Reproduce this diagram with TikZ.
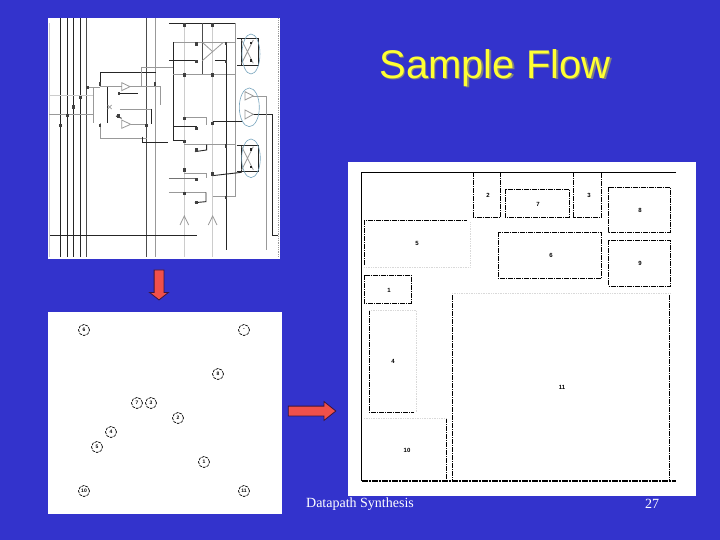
\documentclass[tikz,border=0pt]{standalone}
\usepackage{fontspec}
\setmainfont{Liberation Serif}
\newfontfamily\headfont{Liberation Sans}
\usepackage{xcolor}
\usetikzlibrary{shapes.arrows,positioning}
\definecolor{slidebg}{RGB}{51,51,204}
\definecolor{slideyellow}{RGB}{255,255,51}
\definecolor{slidered}{RGB}{240,80,74}
\definecolor{wirered}{RGB}{60,20,60}
\definecolor{ringblue}{RGB}{120,165,190}

\begin{document}
\begin{tikzpicture}[
		x=1pt, y=-1pt,
		panel/.style={fill=white, inner sep=0pt, outer sep=0pt},
		flow/.style={draw=wirered, fill=slidered, line width=0.8pt, single arrow,
				inner xsep=0pt, inner ysep=4.5pt, outer sep=0pt, single arrow head extend=4.5pt},
		cell/.style={circle, draw, line width=0.7pt, dash pattern=on 3pt off 1pt, minimum size=11pt, inner sep=0pt,
				font=\headfont\bfseries\fontsize{5}{5}\selectfont},
		tag/.style={inner sep=0pt, font=\headfont\bfseries\fontsize{6}{6}\selectfont},
		edge/.style={line width=0.8pt, dash pattern=on 5pt off 1pt on 1pt off 1pt},
		faint/.style={gray!30, line width=0.7pt, densely dotted},
		wire/.style={black!85, line width=0.9pt},
		thin wire/.style={black!40, line width=0.8pt},
		ring/.style={ringblue, line width=0.6pt}
		]
		\useasboundingbox (0,0) rectangle (720,540);
		\fill[slidebg] (0,0) rectangle (720,540);
		\node[panel, minimum width=232pt, minimum height=241pt] (schem) at (164,138.5) {};
		\node[panel, minimum width=234pt, minimum height=202pt] (place) at (165,413) {};
		\node[panel, minimum width=348pt, minimum height=334pt] (layout) at (522,329) {};

		\node[text=gray, font=\headfont\fontsize{40}{40}\selectfont] (shadow) at (496.5,69.5) {Sample Flow};
		\node[text=slideyellow, font=\headfont\fontsize{40}{40}\selectfont] (title) at (495,68) {Sample Flow};
		\node[text=white, font=\fontsize{14}{14}\selectfont] (foot) at (360,504) {Datapath Synthesis};
		\node[text=white, font=\fontsize{14}{14}\selectfont] (page) at (652,504) {27};

		\node[flow, rotate=-90, minimum height=30pt, single arrow tip angle=103] (down) at (159,283) {};
		\node[flow, minimum height=47.5pt, single arrow tip angle=77] (right) at (309,411) {};

		\foreach \n/\x/\y/\t in {c6/84/330/6, cm/244/330/-, c8/218/374/8, c7/137/403/7, c3/151/403/3, c2/178/418/2,
				c4/111/432/4, c5/97/447/5, c1/204/462/1, c10/84/491/10, c11/244/491/11}
		\node[cell] (\n) at (\x,\y) {\t};

		\begin{scope}[shift={(40,10)}, x=0.3333pt, y=-0.3333pt]
			\foreach \x in {61,82,100,121}
			\draw[wire] (\x,25)--(\x,740);
			\draw[black!70, line width=0.9pt] (139,25)--(139,740);
			\draw[black!70, line width=0.9pt] (320,25)--(320,740);
			\draw[thin wire] (347,25)--(347,740);
			\foreach \x in {27,433,518}
			\draw[black!20, line width=0.6pt] (\x,40)--(\x,740);
			\draw[black!40, line width=0.8pt, densely dotted] (716,25)--(716,740);
			\draw[wire] (30,677)--(470,677);
			\draw[wire] (640,313)--(697,313)--(697,677)--(715,677);
			\draw[thin wire] (640,258)--(680,258)--(680,720);
			\draw[black!20, line width=0.6pt] (28,257)--(160,257);
			\draw[thin wire] (28,313)--(160,313);
			\draw[thin wire] (160,235)--(160,340);
			\draw[thin wire] (140,233)--(180,233);

			\draw[wire] (180,225)--(180,187)--(347,187);
			\draw[thin wire] (305,230)--(305,172)--(400,172);
			\draw[wire] (203,230)--(203,340);
			\draw[thin wire] (180,230)--(245,230);
			\draw[thin wire] (245,218)--(270,230)--(245,242)--cycle;
			\draw[thin wire] (270,230)--(360,230)--(360,285);
			\draw[wire] (235,250)--(295,250);
			\draw[thin wire] (240,297)--(333,297);
			\draw[wire] (333,297)--(333,343);
			\draw[thin wire] (203,285)--(215,297) (215,285)--(203,297);
			\draw[wire] (228,318)--(245,325);
			\draw[thin wire] (245,330)--(272,343)--(245,355)--cycle;
			\draw[thin wire] (272,343)--(320,343);
			\draw[thin wire] (180,340)--(180,385)--(320,385);
			\draw[wire] (307,380)--(307,397)--(385,397);

			\draw[wire] (387,40)--(585,40);
			\draw[thin wire] (585,40)--(585,560)--(518,560);
			\draw[thin wire] (400,97)--(585,97);
			\draw[wire] (400,97)--(400,390)--(433,390);
			\draw[wire] (387,152)--(470,152);
			\draw[thin wire] (400,192)--(585,192);
			\draw[black!70, line width=1.1pt] (487,40)--(487,192);
			\draw[wire] (558,97)--(558,720);
			\draw[thin wire] (487,97)--(518,125)--(487,152) (518,125)--(550,97);
			\draw[wire] (525,152)--(558,152);
			\draw[thin wire] (433,322)--(498,322)--(498,345);
			\draw[wire] (400,350)--(470,350);
			\draw[wire] (518,335)--(610,335);
			\draw[thin wire] (433,404)--(585,404);
			\draw[wire] (500,404)--(500,420)--(465,425);
			\draw[black!55, line width=1.4pt] (387,505)--(470,505);
			\draw[thin wire] (433,490)--(498,490)--(498,505);
			\draw[wire] (518,497)--(605,487);
			\draw[thin wire] (387,547)--(498,547);
			\draw[wire] (498,547)--(498,575)--(465,578);
			\foreach \x in {433,518}
			\draw[thin wire] (\x-13,645)--(\x,618)--(\x+13,645);

			\foreach \y in {85,405}{
				\draw[wire] (590,\y)--(655,\y)--(655,\y+80)--(590,\y+80);
				\draw[wire] (605,\y)--(605,\y+80);
				\draw[thin wire] (605,\y+5)--(640,\y+75) (640,\y+5)--(605,\y+75);
				\fill[black!85] (630,\y+10) rectangle (637,\y+18);
				\fill[black!85] (630,\y+62) rectangle (637,\y+70);
			}
			\draw[thin wire] (615,245)--(640,258)--(615,270)--cycle;
			\draw[thin wire] (615,300)--(640,313)--(615,327)--cycle;
			\draw[ring] (633,132) ellipse (27 and 60);
			\draw[ring] (628,292) ellipse (30 and 58);
			\draw[ring] (633,445) ellipse (28 and 58);

			\foreach \x/\y in {142/233,121/263,100/291,82/317,61/346,433/45,518/45,470/102,470/155,558/100,558/155,433/195,518/195,
					180/222,345/222,180/346,320/346,433/325,518/340,470/355,433/395,558/408,470/420,433/480,518/492,470/508,433/550,558/562,470/578,237/250,235/318}
			\fill[black!75] (\x-4,\y-5) rectangle (\x+4,\y+5);
		\end{scope}

		\draw[line width=0.9pt] (676,172.5)--(361.5,172.5)--(361.5,481);
		\draw[line width=1.1pt, dash pattern=on 6pt off 1pt on 2pt off 1pt] (361.5,481)--(676,481);

		\foreach \xa/\ya/\xb/\yb in {505.3/189.3/569.3/217.3, 498.3/232.3/601.7/278.3, 608.3/187.3/670.3/232.3,
				608.3/240.3/670.3/286, 364.3/275.3/411.3/303.3}
		\draw[edge] (\xa,\ya) rectangle (\xb,\yb);
		\draw[edge] (473.3,172.5)--(473.3,217.3)--(500.3,217.3)--(500.3,172.5);
		\draw[edge] (573.7,172.5)--(573.7,217.3)--(601.7,217.3)--(601.7,172.5);
		\draw[edge] (364.3,265)--(364.3,220.3)--(466.7,220.3);
		\draw[faint] (364.3,267)--(470,267)--(470,222);
		\draw[edge] (369.3,310)--(369.3,412.3)--(414,412.3);
		\draw[faint] (369.3,310)--(416,310)--(416,412);
		\draw[edge] (446.3,418.3)--(446.3,481);
		\draw[faint] (364,418.3)--(446,418.3);
		\draw[edge] (452.3,295)--(452.3,481);
		\draw[edge] (669.3,295)--(669.3,481);
		\draw[faint] (452,293)--(670,293);

		\foreach \n/\x/\y/\t in {m2/488/195/2, m7/538/204/7, m3/589/195/3, m8/640/210/8, m5/417/243/5, m6/551/255/6,
				m9/640/263/9, m1/389/290/1, m4/393/361/4, m11/562/387/11, m10/407/450/10}
		\node[tag] (\n) at (\x,\y) {\t};
	\end{tikzpicture}
\end{document}
